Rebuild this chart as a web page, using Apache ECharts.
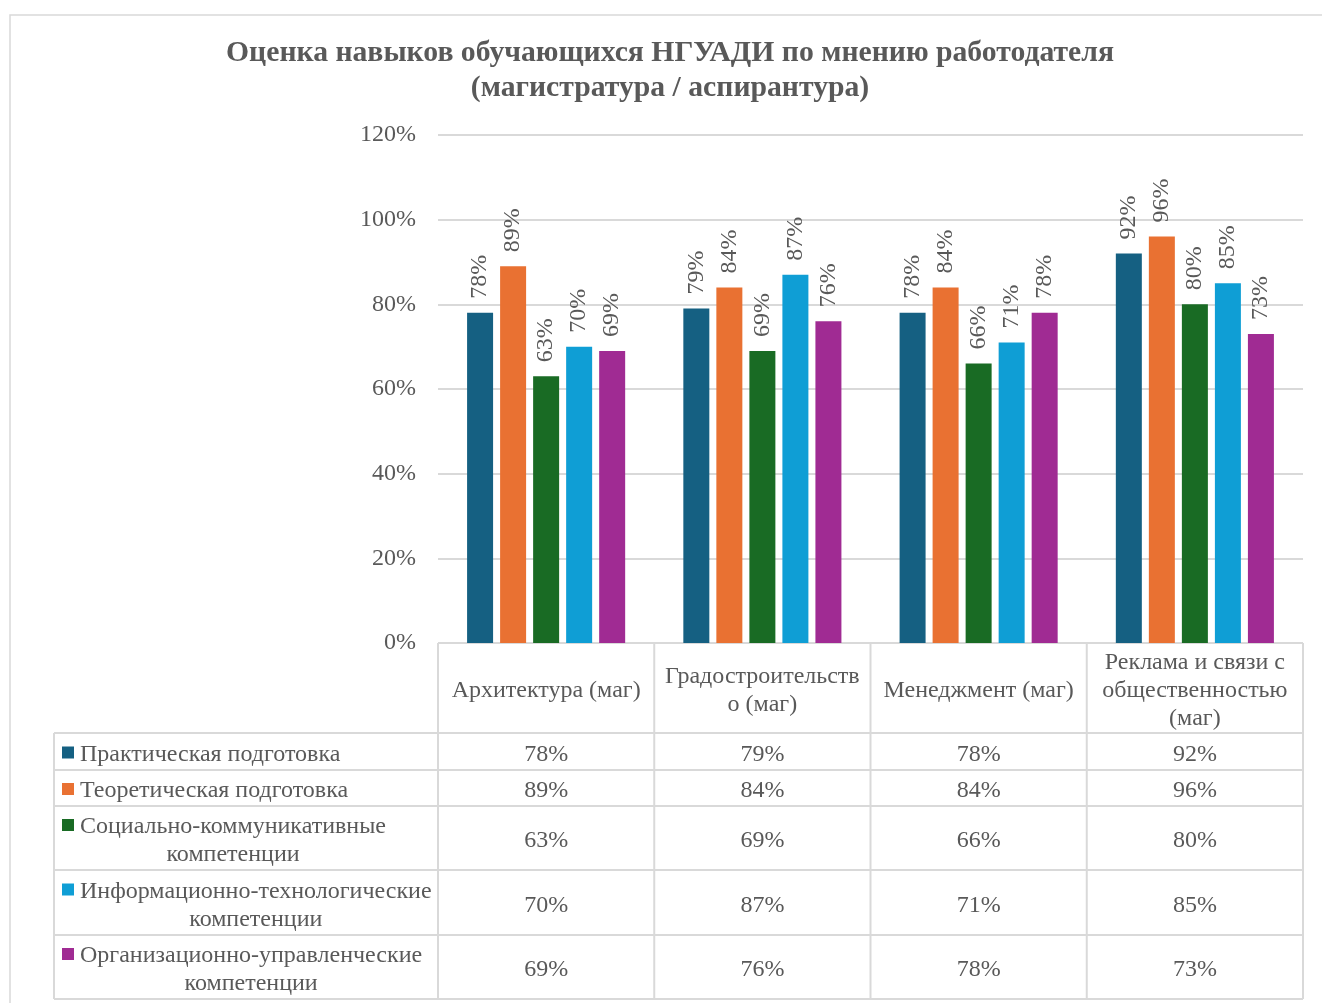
<!DOCTYPE html>
<html>
<head>
<meta charset="utf-8">
<title>Оценка навыков</title>
<script src="https://cdn.jsdelivr.net/npm/echarts@6/dist/echarts.min.js"></script>
<style>
  html, body { margin: 0; padding: 0; background: #fff; }
  #chart { width: 1322px; height: 1003px; }
</style>
</head>
<body>
<div id="chart"></div>
<script>
  // данные
  var categories = ['Архитектура (маг)', 'Градостроительство (маг)', 'Менеджмент (маг)', 'Реклама и связи с общественностью (маг)'];
  var categoryLines = [['Архитектура (маг)'], ['Градостроительств', 'о (маг)'], ['Менеджмент (маг)'], ['Реклама и связи с', 'общественностью', '(маг)']];
  var seriesNames = ['Практическая подготовка', 'Теоретическая подготовка', 'Социально-коммуникативные компетенции', 'Информационно-технологические компетенции', 'Организационно-управленческие компетенции'];
  var seriesLines = [['Практическая подготовка'], ['Теоретическая подготовка'], ['Социально-коммуникативные', 'компетенции'], ['Информационно-технологические', 'компетенции'], ['Организационно-управленческие', 'компетенции']];
  var practical = [78, 79, 78, 92];
  var theoretical = [89, 84, 84, 96];
  var social = [63, 69, 66, 80];
  var itSkills = [70, 87, 71, 85];
  var management = [69, 76, 78, 73];
  var yTicks = [0, 20, 40, 60, 80, 100, 120];

  var allValues = [practical, theoretical, social, itSkills, management];
  var colors = ['#156082', '#E97132', '#196B24', '#0F9ED5', '#A02B93'];
  var textColor = '#595959';
  var lineColor = '#d9d9d9';
  var fontFamily = '"Liberation Serif", "Times New Roman", serif';
  var fontSize = 24;

  // геометрия
  var gridLeft = 438, gridRight = 1303, gridTop = 135, gridBottom = 643;
  var tableLeft = 54;
  var headerBottom = 733;
  var rowHeights = [37, 36, 64, 65, 64];
  var colW = (gridRight - gridLeft) / categories.length;

  var ctx = document.createElement('canvas').getContext('2d');
  ctx.font = fontSize + 'px ' + fontFamily;

  var graphics = [];
  function hline(y, x1, x2) {
    graphics.push({ type: 'line', silent: true, shape: { x1: x1, y1: y, x2: x2, y2: y }, style: { stroke: lineColor, lineWidth: 2 } });
  }
  function vline(x, y1, y2) {
    graphics.push({ type: 'line', silent: true, shape: { x1: x, y1: y1, x2: x, y2: y2 }, style: { stroke: lineColor, lineWidth: 2 } });
  }
  function txt(s, x, y, align) {
    graphics.push({ type: 'text', silent: true, style: { text: s, x: x, y: y, align: align || 'center', verticalAlign: 'middle', fontSize: fontSize, fontFamily: fontFamily, fill: textColor, lineHeight: 28 } });
  }

  // рамка
  graphics.push({ type: 'rect', silent: true, shape: { x: 10, y: 15, width: 1400, height: 1100 }, style: { fill: 'none', stroke: lineColor, lineWidth: 1.5 } });

  // заголовок
  graphics.push({
    type: 'text', silent: true,
    style: {
      text: 'Оценка навыков обучающихся НГУАДИ по мнению работодателя\n(магистратура / аспирантура)',
      x: 670, y: 71, align: 'center', verticalAlign: 'middle',
      fontSize: 29.7, fontWeight: 'bold', fontFamily: fontFamily, fill: textColor, lineHeight: 35
    }
  });

  // таблица
  var rowTops = [headerBottom];
  rowHeights.forEach(function (h, i) { rowTops.push(rowTops[i] + h); });
  var tableBottom = rowTops[rowTops.length - 1];

  hline(gridBottom, gridLeft, gridRight);
  rowTops.forEach(function (y) { hline(y, tableLeft, gridRight); });
  vline(tableLeft, headerBottom, tableBottom);
  for (var c = 0; c <= categories.length; c++) {
    vline(gridLeft + c * colW, gridBottom, tableBottom);
  }

  categoryLines.forEach(function (lines, i) {
    txt(lines.join('\n'), gridLeft + (i + 0.5) * colW, (gridBottom + headerBottom) / 2 + 3);
  });

  seriesLines.forEach(function (lines, r) {
    var cy = rowTops[r] + rowHeights[r] / 2 + 3;
    var w = 0;
    lines.forEach(function (l) { w = Math.max(w, ctx.measureText(l).width); });
    var textLeft = 80;
    txt(lines.join('\n'), textLeft + w / 2, cy);
    var firstLineY = cy - (lines.length - 1) * 14;
    graphics.push({ type: 'rect', silent: true, shape: { x: 62, y: firstLineY - 8, width: 12, height: 12 }, style: { fill: colors[r] } });
    allValues[r].forEach(function (v, i) {
      txt(v + '%', gridLeft + (i + 0.5) * colW, cy);
    });
  });

  var series = seriesNames.map(function (name, i) {
    return {
      name: name,
      type: 'bar',
      data: allValues[i],
      barWidth: 26,
      barGap: '27%',
      itemStyle: { color: colors[i] },
      label: {
        show: true,
        position: 'top',
        rotate: 90,
        align: 'left',
        verticalAlign: 'middle',
        distance: 14,
        formatter: '{c}%',
        fontSize: fontSize,
        fontFamily: fontFamily,
        color: textColor
      }
    };
  });

  var chart = echarts.init(document.getElementById('chart'));
  chart.setOption({
    animation: false,
    backgroundColor: '#fff',
    grid: { left: gridLeft, right: 1322 - gridRight, top: gridTop, bottom: 1003 - gridBottom },
    xAxis: {
      type: 'category',
      data: categories,
      axisLine: { show: false },
      axisTick: { show: false },
      axisLabel: { show: false }
    },
    yAxis: {
      type: 'value',
      min: yTicks[0],
      max: yTicks[yTicks.length - 1],
      interval: yTicks[1] - yTicks[0],
      axisLabel: { formatter: '{value}%', fontSize: fontSize, fontFamily: fontFamily, color: textColor, margin: 22 },
      splitLine: { lineStyle: { color: lineColor, width: 2 } },
      axisLine: { show: false },
      axisTick: { show: false }
    },
    series: series,
    graphic: graphics
  });
</script>
</body>
</html>
